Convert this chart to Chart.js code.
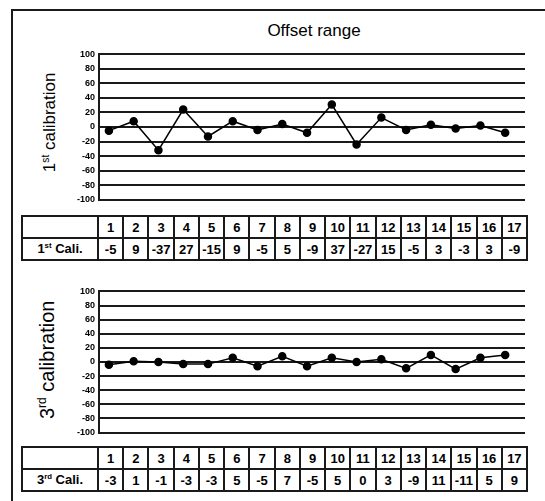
<!DOCTYPE html>
<html>
<head>
<meta charset="utf-8">
<script src="https://cdn.jsdelivr.net/npm/chart.js@4.4.0/dist/chart.umd.min.js"></script>
<style>
  body { margin: 0; width: 545px; height: 501px; overflow: hidden; background: #fff; font-family: Arial, "Liberation Sans", sans-serif; }
  .frame { position: absolute; left: 11px; top: 9px; width: 600px; height: 600px; border-left: 2px solid #1a1a1a; border-top: 2px solid #1a1a1a; }
  .title { position: absolute; left: 214px; width: 200px; top: 21px; text-align: center; font-size: 17px; }
  .ytitle { position: absolute; width: 200px; text-align: center; transform: rotate(-90deg); white-space: nowrap; }
  .ytitle sup, td sup { font-size: 0.6em; }
  .plot { position: absolute; }
  table { position: absolute; left: 21px; width: 507px; border-collapse: collapse; table-layout: fixed; }
  td { border: 2px solid #1a1a1a; text-align: center; font-weight: bold; font-size: 13px; padding: 0; height: 20px; }
  td.head { width: 74px; }
</style>
</head>
<body>
<div class="frame"></div>
<div class="title">Offset range</div>

<div class="ytitle" style="left:-50px; top:112px; font-size:17px;">1<sup>st</sup> calibration</div>
<div class="plot" style="left:60px; top:45px; width:470px; height:164px;"><canvas id="c1"></canvas></div>
<table id="t1" style="top:215px; height:44px;"></table>

<div class="ytitle" style="left:-53px; top:348px; font-size:20px;">3<sup>rd</sup> calibration</div>
<div class="plot" style="left:60px; top:282px; width:470px; height:160px;"><canvas id="c2"></canvas></div>
<table id="t2" style="top:446px; height:43px;"></table>

<script>
const points = [1, 2, 3, 4, 5, 6, 7, 8, 9, 10, 11, 12, 13, 14, 15, 16, 17];
const yTicks = [100, 80, 60, 40, 20, 0, -20, -40, -60, -80, -100];

// values printed in the tables
const cali1Table = [-5, 9, -37, 27, -15, 9, -5, 5, -9, 37, -27, 15, -5, 3, -3, 3, -9];
const cali3Table = [-3, 1, -1, -3, -3, 5, -5, 7, -5, 5, 0, 3, -9, 11, -11, 5, 9];

// values as the markers sit in the plots
const cali1Plot = [-5, 8, -32, 24, -13, 8, -4, 4, -8, 31, -24, 13, -4, 3, -2, 2, -8];
const cali3Plot = [-4, 1, 0, -3, -3, 6, -6, 8, -6, 6, 0, 4, -9, 10, -10, 6, 10];

function fillTable(id, label, values) {
  const t = document.getElementById(id);
  let r1 = '<tr><td class="head"></td>' + points.map(p => '<td>' + p + '</td>').join('') + '</tr>';
  let r2 = '<tr><td class="head">' + label + '</td>' + values.map(v => '<td>' + v + '</td>').join('') + '</tr>';
  t.innerHTML = r1 + r2;
}
fillTable('t1', '1<sup>st</sup> Cali.', cali1Table);
fillTable('t2', '3<sup>rd</sup> Cali.', cali3Table);

function makeChart(id, values) {
  new Chart(document.getElementById(id), {
    type: 'line',
    data: {
      datasets: [{
        data: points.map((p, i) => ({ x: p, y: values[i] })),
        borderColor: '#000',
        borderWidth: 1.5,
        backgroundColor: '#000',
        pointRadius: 3.5,
        pointHoverRadius: 3.5,
        tension: 0
      }]
    },
    options: {
      responsive: true,
      maintainAspectRatio: false,
      animation: false,
      layout: { padding: { top: 6, bottom: 6, right: 2, left: 0 } },
      plugins: { legend: { display: false }, tooltip: { enabled: false } },
      scales: {
        x: { type: 'linear', min: 0.6, max: 17.8, display: false },
        y: {
          min: -100, max: 100,
          afterBuildTicks: s => { s.ticks = yTicks.map(v => ({ value: v })); },
          afterFit: s => { s.width = 39; },
          grid: { color: '#1a1a1a', lineWidth: 2, drawTicks: false },
          border: { display: true, color: '#1a1a1a', width: 2 },
          ticks: { color: '#000', padding: 4, font: { family: 'Arial', size: 9, weight: 'bold' } }
        }
      }
    }
  });
}
makeChart('c1', cali1Plot);
makeChart('c2', cali3Plot);
</script>
</body>
</html>
